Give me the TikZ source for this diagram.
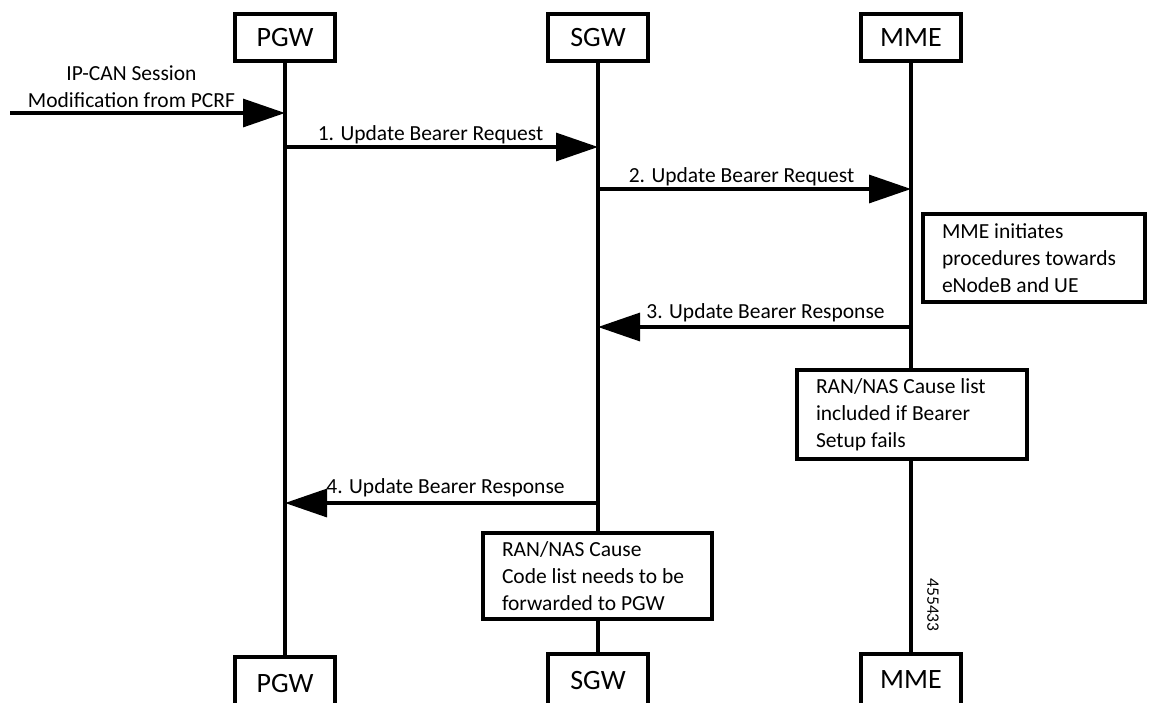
\documentclass[tikz,border=0pt]{standalone}
\usepackage{fontspec}
\setmainfont{Carlito}
\usetikzlibrary{arrows.meta}
\definecolor{inkblack}{RGB}{0, 0, 0}

\begin{document}
\begin{tikzpicture}[x=1pt, y=-1pt,
        entity/.style   ={draw=inkblack, line width=3.2pt, minimum width=100pt, minimum height=47pt, inner sep=0pt, font=\fontsize{28}{32}\selectfont},
        note/.style     ={draw=inkblack, fill=white, line width=3.2pt, align=flush left, inner xsep=19pt, inner ysep=0pt, font=\fontsize{21.5}{27}\selectfont},
        lifeline/.style ={draw=inkblack, line width=3.2pt},
        msg/.style      ={draw=inkblack, line width=3.2pt, -{Triangle[length=42pt, width=28pt]}},
        msglabel/.style ={anchor=base, inner sep=0pt, font=\fontsize{21.5}{27}\selectfont}]
            \useasboundingbox (0,0) rectangle (1153,702);
            % entities
            \node[entity]                      (pgwTop) at ( 285,  37.5) {PGW};
            \node[entity]                      (sgwTop) at ( 598,  37.5) {SGW};
            \node[entity]                      (mmeTop) at ( 911,  37.5) {MME};
            \node[entity, minimum height=52pt] (pgwBot) at ( 285, 683.0) {PGW};
            \node[entity, minimum height=52pt] (sgwBot) at ( 598, 680.0) {SGW};
            \node[entity, minimum height=52pt] (mmeBot) at ( 911, 680.0) {MME};
            \draw[lifeline] (pgwTop) -- (pgwBot);
            \draw[lifeline] (sgwTop) -- (sgwBot);
            \draw[lifeline] (mmeTop) -- (mmeBot);
            % messages
            \coordinate (pcrf) at (10,113);
            \draw[msg] (pcrf) -- (pcrf -| pgwTop)
                 node[msglabel, midway, anchor=south, align=center, xshift=-16pt, yshift=4pt] {IP-CAN Session\\Modification from PCRF};
            \draw[msg] (pgwTop |- 0,147) -- node[msglabel, xshift=-11pt, yshift=7pt] {1. Update Bearer Request}  (sgwTop |- 0,147);
            \draw[msg] (sgwTop |- 0,189) -- node[msglabel, xshift=-13pt, yshift=7pt] {2. Update Bearer Request}  (mmeTop |- 0,189);
            \draw[msg] (mmeTop |- 0,327) -- node[msglabel, xshift=11pt,  yshift=9pt] {3. Update Bearer Response} (sgwTop |- 0,327);
            \draw[msg] (sgwTop |- 0,503) -- node[msglabel, xshift=4pt,   yshift=10pt] {4. Update Bearer Response} (pgwTop |- 0,503);
            % notes
            \node[note, text width=184pt, minimum height=88pt] (mmeProc)  at (1034, 258.0) {MME initiates\\procedures towards\\eNodeB and UE};
            \node[note, text width=192pt, minimum height=89pt] (mmeCause) at ( 912, 414.5) {RAN/NAS Cause list\\included if Bearer\\Setup fails};
            \node[note, text width=191pt, minimum height=86pt] (sgwCause) at (597.5, 576.0) {RAN/NAS Cause\\Code list needs to be\\forwarded to PGW};
            \node[rotate=-90, inner sep=0pt, font=\fontsize{17.5}{20}\selectfont] (figNum) at (933, 605) {455433};
        \end{tikzpicture}
\end{document}
